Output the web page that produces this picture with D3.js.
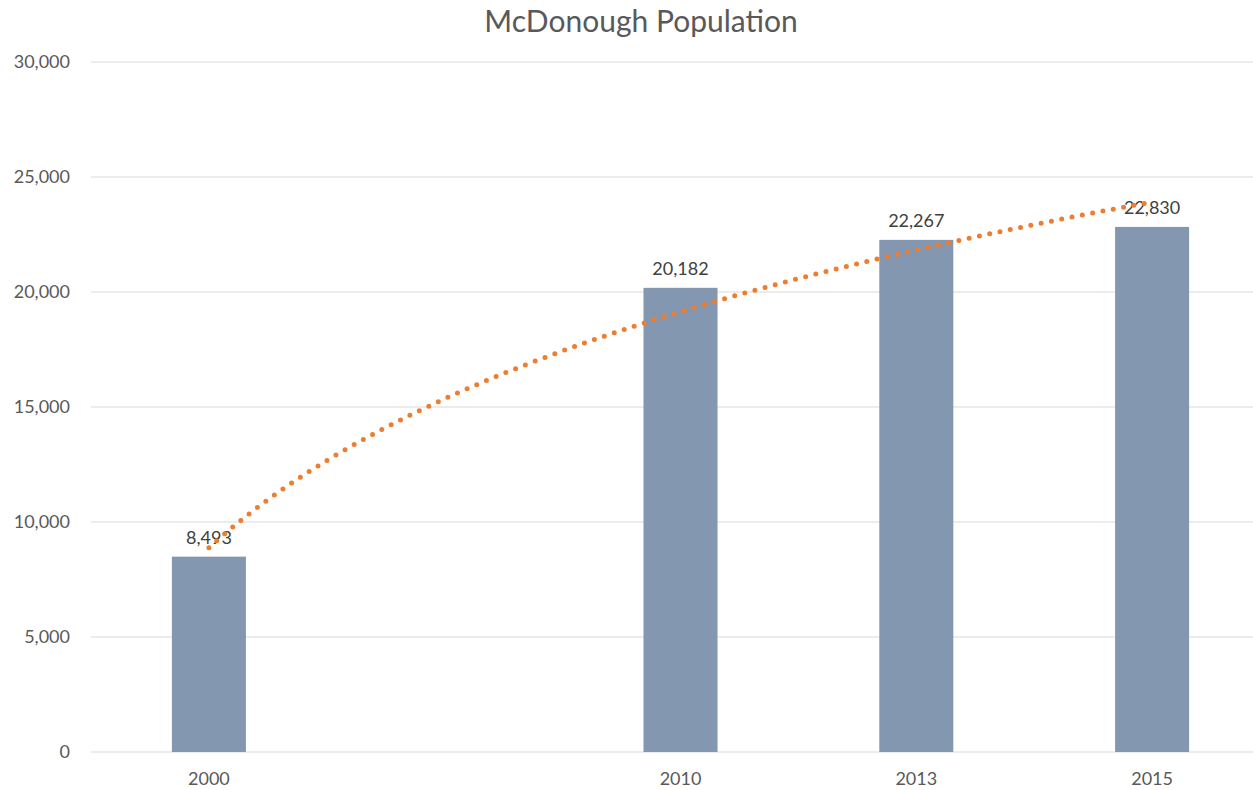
<!DOCTYPE html>
<html><head><meta charset="utf-8">
<script src="https://cdn.jsdelivr.net/npm/d3@7"></script>
<style>
body{margin:0;background:#fff;}
svg{display:block;font-family:Lato,"Open Sans",sans-serif;}
</style></head>
<body><svg id="c" width="1253" height="790"></svg>
<script>
const title = "McDonough Population";
const categories = ["2000", "", "2010", "2013", "2015"];
const population = [8493, null, 20182, 22267, 22830];
const yTicks = [0, 5000, 10000, 15000, 20000, 25000, 30000];

const svg = d3.select("#c");
const x = d3.scaleBand().domain(categories.map((c,i)=>i)).range([91, 1270]).padding(0);
const y = d3.scaleLinear().domain([0, 30000]).range([752, 62]);
const barW = x.bandwidth() * 0.314;
const fmt = d3.format(",");

// gridlines
svg.append("g").selectAll("line").data(yTicks).join("line")
  .attr("x1", 91).attr("x2", 1253)
  .attr("y1", d=>y(d)).attr("y2", d=>y(d))
  .attr("stroke", "#d9d9d9").attr("stroke-width", 1);

// y axis labels
const yAxis = d3.axisLeft(y).tickValues(yTicks).tickFormat(fmt).tickSize(0).tickPadding(21);
const ya = svg.append("g").attr("transform", "translate(91,0)").call(yAxis);
ya.select(".domain").remove();
ya.selectAll("text").attr("fill", "#595959").style("font-size", "18px").style("font-family", "Lato,'Open Sans',sans-serif");

// x axis labels
const xAxis = d3.axisBottom(x).tickFormat(i=>categories[i]).tickSize(0).tickPadding(20);
const xa = svg.append("g").attr("transform", "translate(0,752)").call(xAxis);
xa.select(".domain").remove();
xa.selectAll("text").attr("fill", "#595959").style("font-size", "18px").style("font-family", "Lato,'Open Sans',sans-serif");

const pts = population.map((v,i)=>({i, v})).filter(d=>d.v !== null);

// bars
svg.append("g").selectAll("rect").data(pts).join("rect")
  .attr("x", d=>x(d.i) + x.bandwidth()/2 - barW/2)
  .attr("y", d=>y(d.v))
  .attr("width", barW)
  .attr("height", d=>y(0)-y(d.v))
  .attr("fill", "#8497b0");

// data labels
svg.append("g").selectAll("text").data(pts).join("text")
  .attr("x", d=>x(d.i) + x.bandwidth()/2)
  .attr("y", d=>y(d.v) - 13)
  .attr("text-anchor", "middle")
  .attr("fill", "#404040")
  .style("font-size", "18px")
  .text(d=>fmt(d.v));

// logarithmic trendline (least squares fit on category positions 1..n)
const lx = pts.map(d=>Math.log(d.i+1)), ly = pts.map(d=>d.v);
const mx = d3.mean(lx), my = d3.mean(ly);
const b = d3.sum(lx.map((v,k)=>(v-mx)*(ly[k]-my))) / d3.sum(lx.map(v=>(v-mx)*(v-mx)));
const a = my - b*mx;
const first = pts[0].i+1, last = pts[pts.length-1].i+1;
const tr = d3.range(0, 201).map(k=>first + (last-first)*k/200);
const cx = pos => x(0) + x.bandwidth()/2 + (pos-1)*x.step();
svg.append("path")
  .datum(tr)
  .attr("d", d3.line().x(p=>cx(p)).y(p=>y(a + b*Math.log(p))))
  .attr("fill", "none")
  .attr("stroke", "#ed7d31")
  .attr("stroke-width", 5)
  .attr("stroke-linecap", "round")
  .attr("stroke-dasharray", "0,10.5");

// title
svg.append("text").attr("x", 641).attr("y", 32).attr("text-anchor", "middle")
  .attr("fill", "#595959").style("font-size", "30px").text(title);
</script></body></html>
